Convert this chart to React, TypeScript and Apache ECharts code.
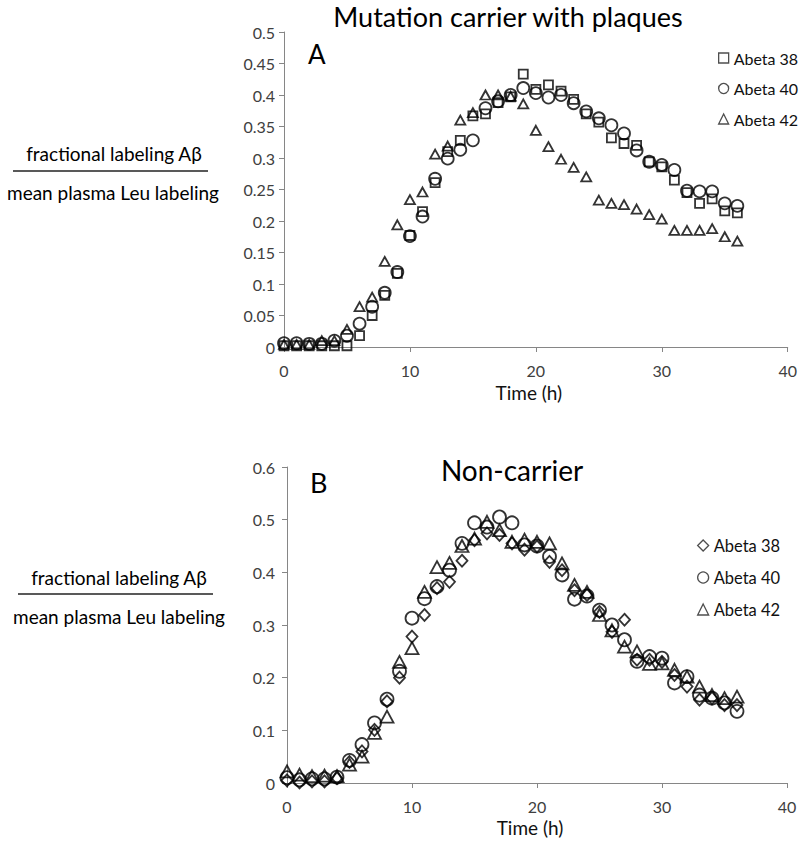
import React, { useEffect, useRef } from "react";
import * as echarts from "echarts";

// ---------- data ----------
const hours = [0, 1, 2, 3, 4, 5, 6, 7, 8, 9, 10, 11, 12, 13, 14, 15, 16, 17, 18, 19, 20, 21, 22, 23, 24, 25, 26, 27, 28, 29, 30, 31, 32, 33, 34, 35, 36];

// Panel A: mutation carrier with plaques
const carrierAbeta38 = [0.002, 0.002, 0.002, 0.002, 0.002, 0.002, 0.018, 0.05, 0.082, 0.117, 0.177, 0.215, 0.261, 0.31, 0.328, 0.367, 0.37, 0.388, 0.397, 0.433, 0.409, 0.416, 0.406, 0.393, 0.37, 0.357, 0.332, 0.323, 0.32, 0.294, 0.286, 0.265, 0.245, 0.228, 0.235, 0.216, 0.213];
const carrierAbeta40 = [0.006, 0.006, 0.005, 0.005, 0.01, 0.018, 0.037, 0.064, 0.086, 0.119, 0.176, 0.207, 0.267, 0.299, 0.313, 0.328, 0.379, 0.39, 0.4, 0.411, 0.403, 0.396, 0.4, 0.387, 0.374, 0.363, 0.352, 0.339, 0.312, 0.294, 0.289, 0.281, 0.248, 0.247, 0.247, 0.228, 0.224];
const carrierAbeta42 = [0.004, 0.004, 0.004, 0.01, 0.01, 0.028, 0.064, 0.079, 0.136, 0.194, 0.234, 0.246, 0.306, 0.319, 0.36, 0.372, 0.4, 0.4, 0.398, 0.386, 0.344, 0.318, 0.298, 0.285, 0.27, 0.233, 0.228, 0.226, 0.219, 0.21, 0.203, 0.185, 0.185, 0.185, 0.188, 0.175, 0.168];

// Panel B: non-carrier
const nonCarrierAbeta38 = [0.005, 0.001, 0.003, 0.003, 0.009, 0.04, 0.06, 0.101, 0.155, 0.2, 0.278, 0.319, 0.37, 0.382, 0.422, 0.461, 0.474, 0.471, 0.455, 0.443, 0.449, 0.42, 0.404, 0.366, 0.357, 0.325, 0.287, 0.31, 0.234, 0.234, 0.23, 0.205, 0.183, 0.158, 0.161, 0.148, 0.148];
const nonCarrierAbeta40 = [0.01, 0.006, 0.008, 0.008, 0.011, 0.043, 0.073, 0.114, 0.159, 0.212, 0.313, 0.35, 0.373, 0.404, 0.455, 0.494, 0.486, 0.505, 0.494, 0.452, 0.45, 0.43, 0.395, 0.349, 0.355, 0.328, 0.3, 0.272, 0.231, 0.24, 0.237, 0.19, 0.202, 0.167, 0.161, 0.152, 0.136];
const nonCarrierAbeta42 = [0.022, 0.016, 0.013, 0.014, 0.013, 0.035, 0.05, 0.095, 0.126, 0.23, 0.256, 0.363, 0.41, 0.418, 0.45, 0.464, 0.496, 0.48, 0.458, 0.462, 0.458, 0.455, 0.417, 0.376, 0.363, 0.319, 0.29, 0.259, 0.25, 0.226, 0.227, 0.215, 0.202, 0.183, 0.167, 0.161, 0.164];

const seriesNames = ["Abeta 38", "Abeta 40", "Abeta 42"];
const titleA = "Mutation carrier with plaques";
const titleB = "Non-carrier";
const yLabelTop = "fractional labeling Aβ";
const yLabelBottom = "mean plasma Leu labeling";
const xName = "Time (h)";

// axis ranges
const xMin = 0, xMax = 40, xStep = 10;
const yMaxA = 0.5, yStepA = 0.05;
const yMaxB = 0.6, yStepB = 0.1;

const FONT = "Lato, 'Open Sans', sans-serif";

const pairs = (vals: number[]) => hours.map((h, i) => [h, vals[i]]);

const markerStyle = { color: "rgba(0,0,0,0)", borderColor: "#000", borderWidth: 1.8 };
const legendMarkerStyle = { color: "rgba(0,0,0,0)", borderColor: "#222", borderWidth: 1.3 };

function xAxisCfg(gridIndex: number, nameGap: number) {
  return {
    type: "value",
    gridIndex,
    min: xMin,
    max: xMax,
    interval: xStep,
    splitLine: { show: false },
    axisLine: { show: true, lineStyle: { color: "#868686", width: 1 } },
    axisTick: { show: true, length: 5, lineStyle: { color: "#868686" } },
    axisLabel: { fontSize: 16, color: "#404040", margin: 15, fontFamily: FONT },
    name: xName,
    nameLocation: "middle",
    nameGap,
    nameTextStyle: { fontSize: 19, color: "#111", fontFamily: FONT, padding: [0, 14, 0, 0] },
  };
}

function yAxisCfg(gridIndex: number, max: number, interval: number, margin: number) {
  return {
    type: "value",
    gridIndex,
    min: 0,
    max,
    interval,
    splitLine: { show: false },
    axisLine: { show: true, lineStyle: { color: "#868686", width: 1 } },
    axisTick: { show: true, length: 5, lineStyle: { color: "#868686" } },
    axisLabel: { fontSize: 16, color: "#404040", margin, fontFamily: FONT },
  };
}

function txt(text: string, x: number, y: number, size: number, align: string) {
  return {
    type: "text",
    x,
    y,
    style: {
      text,
      font: `${size}px ${FONT}`,
      fill: "#000",
      align,
      textAlign: align,
      verticalAlign: "middle",
      textVerticalAlign: "middle",
    },
  };
}

export default function App() {
  const ref = useRef<HTMLDivElement>(null);
  useEffect(() => {
    if (!ref.current) return;
    const chart = echarts.init(ref.current, null, { renderer: "svg" });
    const option = {
      animation: false,
      backgroundColor: "#fff",
      grid: [
        { left: 284, top: 32, width: 506, height: 315 },
        { left: 287, top: 467, width: 500, height: 316 },
      ],
      xAxis: [xAxisCfg(0, 36), xAxisCfg(1, 35)],
      yAxis: [yAxisCfg(0, yMaxA, yStepA, 9), yAxisCfg(1, yMaxB, yStepB, 12)],
      legend: [
        {
          orient: "vertical",
          left: 713,
          top: 45,
          itemGap: 14.5,
          itemWidth: 10,
          itemHeight: 10,
          textStyle: { fontSize: 16, color: "#111", fontFamily: FONT },
          itemStyle: legendMarkerStyle,
          data: [
            { name: seriesNames[0], icon: "rect" },
            { name: seriesNames[1], icon: "circle" },
            { name: seriesNames[2], icon: "triangle" },
          ],
        },
        {
          orient: "vertical",
          left: 692,
          top: 532,
          itemGap: 15,
          itemWidth: 11,
          itemHeight: 11,
          textStyle: { fontSize: 16.5, color: "#111", fontFamily: FONT },
          itemStyle: legendMarkerStyle,
          data: [
            { name: seriesNames[0], icon: "diamond" },
            { name: seriesNames[1], icon: "circle" },
            { name: seriesNames[2], icon: "triangle" },
          ],
        },
      ],
      series: [
        { name: seriesNames[0], type: "scatter", xAxisIndex: 0, yAxisIndex: 0, symbol: "rect", symbolSize: 9, itemStyle: markerStyle, data: pairs(carrierAbeta38) },
        { name: seriesNames[1], type: "scatter", xAxisIndex: 0, yAxisIndex: 0, symbol: "circle", symbolSize: 12, itemStyle: markerStyle, data: pairs(carrierAbeta40) },
        { name: seriesNames[2], type: "scatter", xAxisIndex: 0, yAxisIndex: 0, symbol: "triangle", symbolSize: [10, 9], itemStyle: markerStyle, data: pairs(carrierAbeta42) },
        { name: seriesNames[0], type: "scatter", xAxisIndex: 1, yAxisIndex: 1, symbol: "diamond", symbolSize: [11, 12], itemStyle: markerStyle, data: pairs(nonCarrierAbeta38) },
        { name: seriesNames[1], type: "scatter", xAxisIndex: 1, yAxisIndex: 1, symbol: "circle", symbolSize: 13, itemStyle: markerStyle, data: pairs(nonCarrierAbeta40) },
        { name: seriesNames[2], type: "scatter", xAxisIndex: 1, yAxisIndex: 1, symbol: "triangle", symbolSize: [13, 12], itemStyle: markerStyle, data: pairs(nonCarrierAbeta42) },
      ],
      graphic: [
        txt(titleA, 508, 16, 27, "center"),
        txt("A", 308, 54, 26, "left"),
        txt(titleB, 512, 470, 28, "center"),
        txt("B", 310, 482, 27, "left"),
        txt(yLabelTop, 114, 153, 19, "center"),
        { type: "line", shape: { x1: 13, y1: 171, x2: 208, y2: 171 }, style: { stroke: "#222", lineWidth: 1.5 } },
        txt(yLabelBottom, 113, 192, 19, "center"),
        txt(yLabelTop, 119, 577, 19, "center"),
        { type: "line", shape: { x1: 18, y1: 594, x2: 213, y2: 594 }, style: { stroke: "#222", lineWidth: 1.5 } },
        txt(yLabelBottom, 119, 616, 19, "center"),
      ],
    };
    chart.setOption(option as any);
    return () => chart.dispose();
  }, []);
  return (
    <div
      ref={ref}
      style={{ position: "absolute", left: 0, top: 0, width: 800, height: 846, background: "#fff" }}
    />
  );
}
